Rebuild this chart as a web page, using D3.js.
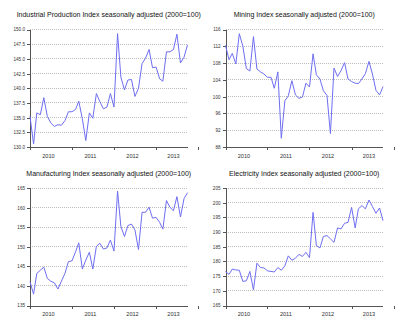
<!DOCTYPE html>
<html>
<head>
<meta charset="utf-8">
<script src="https://cdnjs.cloudflare.com/ajax/libs/d3/7.8.5/d3.min.js"></script>
<style>
  body { margin: 0; background: #fff; }
  svg { display: block; font-family: "Liberation Sans", Arial, sans-serif; }
  .grid line { stroke: #bdbdbd; stroke-dasharray: 1,1; shape-rendering: crispEdges; }
  .axis path, .axis line { stroke: #555; shape-rendering: crispEdges; }
  .axis text { fill: #333; }
  .series { fill: none; stroke: #6e6ef2; stroke-width: 1; }
</style>
</head>
<body>
<svg id="chart" width="400" height="328"></svg>
<script>
// Monthly observations, Jan 2010 .. Oct 2013
const firstMonth = new Date(Date.UTC(2010, 0, 1));
const lastMonth  = new Date(Date.UTC(2013, 9, 1));
const months = d3.utcMonth.range(firstMonth, d3.utcDay.offset(lastMonth, 1));

const yearLabels = [2010, 2011, 2012, 2013];

const industrialValues = [
  135.2, 130.5, 135.8, 135.5, 138.4, 135.2, 134.1, 133.5, 133.8, 133.7,
  134.5, 136.0, 136.0, 136.4, 137.8, 134.8, 131.1, 135.8, 134.9, 139.1,
  137.7, 136.5, 136.8, 139.1, 136.8, 149.3, 141.9, 139.7, 141.4, 141.5,
  138.6, 140.0, 144.2, 145.1, 146.6, 143.5, 143.6, 141.6, 141.2, 146.2,
  146.2, 146.6, 149.2, 144.3, 145.3, 147.4
];
const miningValues = [
  112.2, 108.8, 110.3, 107.8, 115.0, 112.0, 106.7, 106.1, 114.3, 106.6,
  105.9, 105.4, 104.6, 104.6, 102.0, 105.9, 90.1, 99.0, 100.2, 103.8,
  100.4, 99.6, 99.9, 103.2, 102.3, 110.2, 105.2, 104.2, 101.4, 100.3,
  91.2, 106.8, 104.8, 106.2, 108.1, 104.2, 103.6, 103.2, 103.1, 104.2,
  105.5, 108.4, 105.4, 101.5, 100.4, 102.4
];
const manufacturingValues = [
  141.1, 137.9, 143.2, 144.0, 144.8, 141.9, 141.2, 140.8, 139.2, 141.2,
  143.2, 146.2, 146.4, 148.7, 151.0, 144.3, 146.6, 148.6, 144.3, 150.1,
  150.9, 149.4, 149.7, 151.7, 148.9, 164.2, 155.2, 152.6, 155.4, 155.8,
  154.3, 149.3, 158.8, 158.8, 160.1, 157.3, 157.5, 156.2, 154.5, 161.8,
  160.1, 159.2, 162.8, 157.6, 162.3, 163.8
];
const electricityValues = [
  176.5, 175.6, 177.4, 177.1, 177.0, 173.2, 173.4, 176.6, 170.3, 179.4,
  177.9, 177.8, 176.8, 176.6, 176.4, 177.9, 177.0, 178.5, 181.9, 180.4,
  181.1, 182.4, 181.7, 183.1, 181.3, 196.7, 185.4, 184.6, 188.5, 188.8,
  187.7, 186.5, 191.4, 191.1, 193.0, 193.3, 198.4, 191.4, 197.9, 199.0,
  197.9, 200.9, 198.7, 196.4, 198.2, 193.9
];

const industrialTicks    = [130, 132.5, 135, 137.5, 140, 142.5, 145, 147.5, 150];
const miningTicks        = [88, 92, 96, 100, 104, 108, 112, 116];
const manufacturingTicks = [135, 140, 145, 150, 155, 160, 165];
const electricityTicks   = [165, 170, 175, 180, 185, 190, 195, 200, 205];

const panels = [
  { title: 'Industrial Production Index seasonally adjusted (2000=100)',
    values: industrialValues, ticks: industrialTicks, fmt: '.1f',
    x: 30, y: 29.5, w: 157.5, h: 117.5 },
  { title: 'Mining Index seasonally adjusted (2000=100)',
    values: miningValues, ticks: miningTicks, fmt: 'd',
    x: 225.5, y: 29.5, w: 157.5, h: 117.5 },
  { title: 'Manufacturing Index seasonally adjusted (2000=100)',
    values: manufacturingValues, ticks: manufacturingTicks, fmt: 'd',
    x: 30, y: 188, w: 157.5, h: 117.5 },
  { title: 'Electricity Index seasonally adjusted (2000=100)',
    values: electricityValues, ticks: electricityTicks, fmt: 'd',
    x: 225.5, y: 188, w: 157.5, h: 117.5 }
];

const svg = d3.select('#chart');

function drawPanel(p) {
  const g = svg.append('g').attr('transform', `translate(${p.x},${p.y})`);

  const x = d3.scaleUtc().domain([firstMonth, lastMonth]).range([0, p.w]);
  const y = d3.scaleLinear()
    .domain([p.ticks[0], p.ticks[p.ticks.length - 1]])
    .range([p.h, 0]);

  // griglia tratteggiata
  g.append('g').attr('class', 'grid')
    .selectAll('line')
    .data(p.ticks.slice(1))
    .enter().append('line')
    .attr('x1', 0).attr('x2', p.w)
    .attr('y1', d => y(d)).attr('y2', d => y(d));

  // asse y
  g.append('g').attr('class', 'axis')
    .call(d3.axisLeft(y).tickValues(p.ticks).tickSize(3).tickPadding(2)
      .tickFormat(d3.format(p.fmt)))
    .call(a => a.select('.domain').attr('d', `M-3,0.5H0.5V${p.h}`))
    .selectAll('text').attr('font-size', 4.6);

  // asse x: tacche a inizio anno, etichette a metà anno
  const years = d3.utcYear.range(firstMonth, d3.utcYear.offset(lastMonth, 1));
  g.append('g').attr('class', 'axis')
    .attr('transform', `translate(0,${p.h})`)
    .call(d3.axisBottom(x).tickValues(years).tickSize(3).tickFormat(''))
    .call(a => a.select('.domain').attr('d', `M0,0.5H${p.w}`));

  g.append('g').attr('class', 'axis')
    .selectAll('text')
    .data(yearLabels)
    .enter().append('text')
    .attr('x', d => Math.min(x(new Date(Date.UTC(d, 5, 10))), p.w - 14))
    .attr('y', p.h + 10.5)
    .attr('text-anchor', 'middle')
    .attr('font-size', 5.6)
    .text(d => d);

  // serie
  g.append('path')
    .datum(p.values)
    .attr('class', 'series')
    .attr('d', d3.line()
      .x((d, i) => x(months[i]))
      .y(d => y(d)));

  // titolo
  g.append('text')
    .attr('x', p.w / 2)
    .attr('y', -12.5)
    .attr('text-anchor', 'middle')
    .attr('font-size', 7)
    .attr('fill', '#111')
    .text(p.title);
}

panels.forEach(drawPanel);
</script>
</body>
</html>
